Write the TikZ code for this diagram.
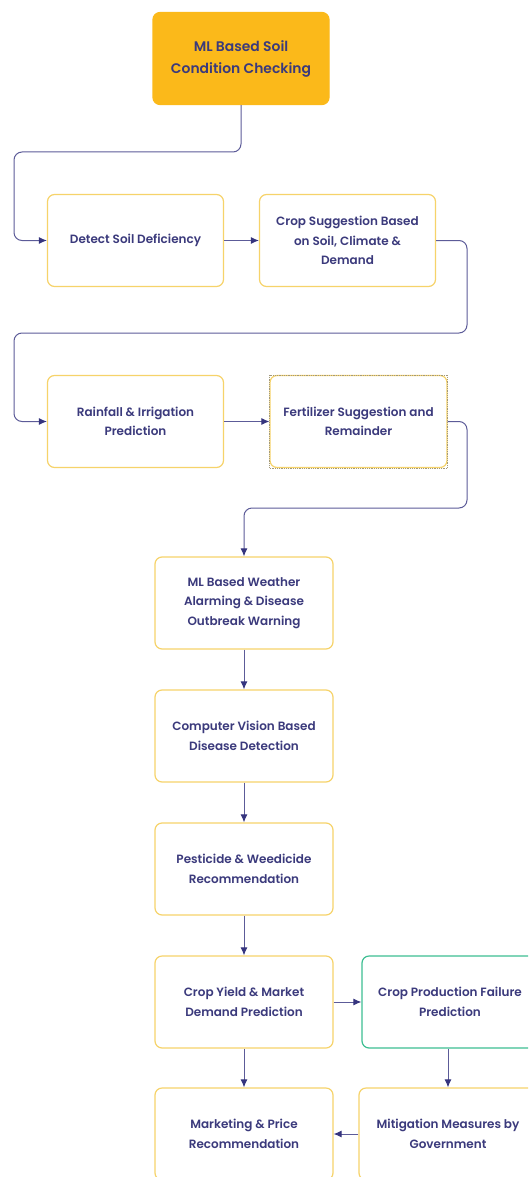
\documentclass[tikz,border=0pt]{standalone}
\usepackage{fontspec}
\setmainfont{Poppins}[UprightFont=* Medium, BoldFont=* SemiBold]
\usetikzlibrary{arrows.meta,positioning}
\definecolor{navy}{HTML}{3B3A7C}
\definecolor{linec}{HTML}{5C5B98}
\definecolor{tipc}{HTML}{35347E}
\definecolor{boxy}{HTML}{F6D36A}
\definecolor{topfill}{HTML}{FBB91A}
\definecolor{greenb}{HTML}{3DBE92}
\tikzset{
  box/.style={draw=boxy, line width=1.2pt, rounded corners=7pt, fill=white,
    minimum width=176pt, minimum height=92pt, align=center, text=navy,
    font=\fontsize{12}{19.5}\selectfont\bfseries, inner sep=2pt},
  topbox/.style={box, draw=topfill, fill=topfill, font=\fontsize{13.9}{22}\selectfont\bfseries},
  conn/.style={draw=linec, line width=1pt, rounded corners=8pt,
    -{Latex[length=8pt,width=7pt,fill=tipc,color=tipc]}},
}
\begin{document}
\begin{tikzpicture}[x=1pt,y=-1pt]
\useasboundingbox (0,0) rectangle (528,1177);
\begin{scope}
\clip (0,0) rectangle (528,1177);
\node[topbox] (top) at (241,58.5) {ML Based Soil\\Condition Checking};
\node[box] (detect) at (135.5,240.5) {Detect Soil Deficiency};
\node[box] (cropsug) at (347.5,240.5) {Crop Suggestion Based\\on Soil, Climate \&\\Demand};
\node[box] (rain) at (135.5,421.5) {Rainfall \& Irrigation\\Prediction};
\node[box, minimum width=177pt] (fert) at (358.5,421.5) {Fertilizer Suggestion and\\Remainder};
\draw[densely dotted, draw=gray!70!boxy, line width=0.8pt] (fert.north west) rectangle (fert.south east);
\node[box, minimum width=178pt] (weather) at (244,603) {ML Based Weather\\Alarming \& Disease\\Outbreak Warning};
\node[box, minimum width=178pt] (cv) at (244,736) {Computer Vision Based\\Disease Detection};
\node[box, minimum width=178pt] (pest) at (244,869) {Pesticide \& Weedicide\\Recommendation};
\node[box, minimum width=178pt] (yield) at (244,1002) {Crop Yield \& Market\\Demand Prediction};
\node[box, draw=greenb, minimum width=176pt] (fail) at (450,1002) {Crop Production Failure\\Prediction};
\node[box, minimum width=178pt] (mitig) at (448,1134) {Mitigation Measures by\\Government};
\node[box, minimum width=178pt] (market) at (244,1134) {Marketing \& Price\\Recommendation};

\coordinate (c1) at (14,152);
\coordinate (c2) at (467,333);
\coordinate (c3) at (14,333);
\coordinate (c4) at (467,508);

\draw[conn] (top.south) |- (c1) |- (detect.west);
\draw[conn] (detect) -- (cropsug);
\draw[conn] (cropsug.east) -| (c2) -- (c3) |- (rain.west);
\draw[conn] (rain) -- (fert);
\draw[conn] (fert.east) -| (c4) -| (weather.north);
\draw[conn] (weather) -- (cv);
\draw[conn] (cv) -- (pest);
\draw[conn] (pest) -- (yield);
\draw[conn] (yield) -- (fail);
\draw[conn] (yield) -- (market);
\draw[conn] (fail.south -| 448,0) -- (mitig.north);
\draw[conn] (mitig) -- (market);
\end{scope}
\end{tikzpicture}
\end{document}
